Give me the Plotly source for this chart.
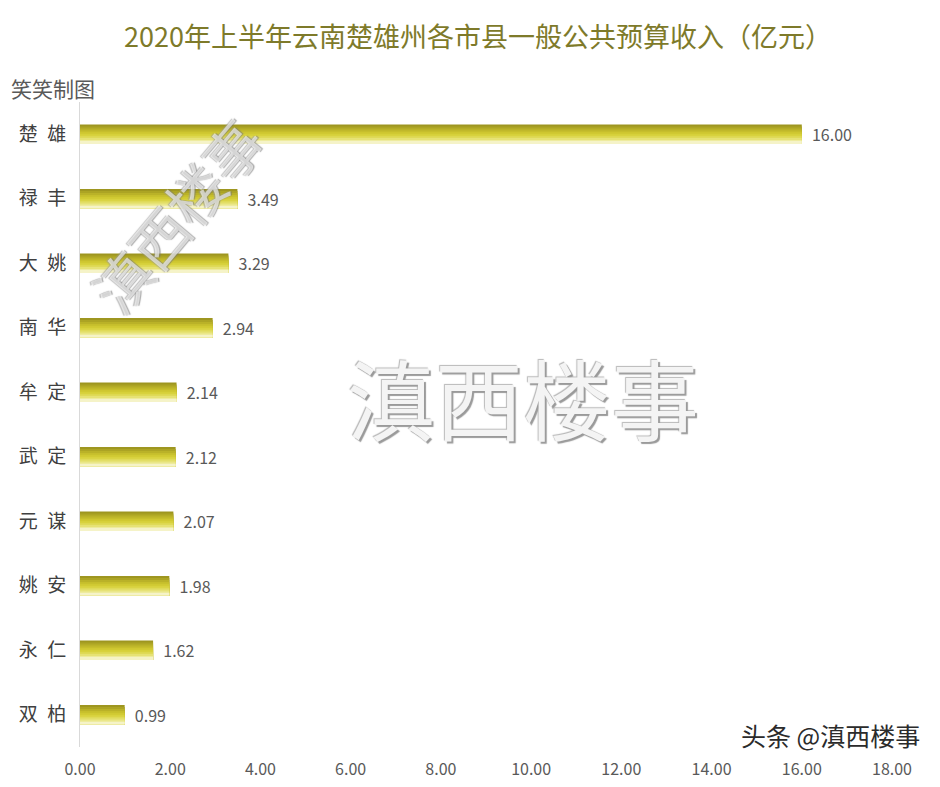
import plotly.graph_objects as go

categories = ["楚雄", "禄丰", "大姚", "南华", "牟定", "武定", "元谋", "姚安", "永仁", "双柏"]
values = [16.00, 3.49, 3.29, 2.94, 2.14, 2.12, 2.07, 1.98, 1.62, 0.99]
x_ticks = [0, 2, 4, 6, 8, 10, 12, 14, 16, 18]

FONT = "Noto Sans CJK SC"
fig = go.Figure()

# gradient-like bar built from overlaid layers (same data); each layer: (width, offset, colour)
layers = [
    (0.30, -0.15, "#9E9620"),
    (0.27, -0.12, "#ACA424"),
    (0.24, -0.09, "#BAB228"),
    (0.21, -0.06, "#C6BE2C"),
    (0.18, -0.03, "#D0C932"),
    (0.15, 0.00, "#D8D23E"),
    (0.12, 0.03, "#DFDA58"),
    (0.09, 0.06, "#E6E275"),
    (0.06, 0.09, "#EEEB9E"),
    (0.03, 0.12, "#F5F3C8"),
]
for i, (w, off, col) in enumerate(layers):
    fig.add_trace(go.Bar(
        x=values, y=categories, orientation="h",
        width=w, offset=off,
        marker=dict(color=col, line=dict(width=0)),
        text=["  " + f"{v:.2f}" for v in values] if i == 0 else None,
        textposition="outside" if i == 0 else "none",
        constraintext="none",
        textfont=dict(family=FONT, size=16, color="#595959"),
        cliponaxis=False,
        hoverinfo="skip",
        showlegend=False,
    ))

fig.update_layout(
    width=940, height=787,
    barmode="overlay",
    plot_bgcolor="white", paper_bgcolor="white",
    margin=dict(l=72, r=56, t=94, b=48, autoexpand=False),
    title=dict(
        text="2020年上半年云南楚雄州各市县一般公共预算收入（亿元）",
        x=0.5, xanchor="center", y=0.962, yanchor="middle",
        font=dict(family=FONT, size=27, color="#7E7A2A"),
    ),
    xaxis=dict(
        range=[0, 18], tickvals=x_ticks,
        ticktext=[f"{t:.2f}" for t in x_ticks],
        showgrid=False, zeroline=False, showline=False,
        tickfont=dict(family=FONT, size=16, color="#595959"),
        ticklabelstandoff=11, automargin=False,
    ),
    yaxis=dict(
        categoryorder="array", categoryarray=categories,
        autorange="reversed",
        tickvals=categories,
        ticktext=["\u2002".join(c) for c in categories],
        showgrid=False, zeroline=False,
        showline=True, linecolor="#D9D9D9", linewidth=1,
        tickfont=dict(family=FONT, size=19, color="#404040"),
        ticklabelstandoff=9, automargin=False,
    ),
    font=dict(family=FONT),
)

# subtitle
fig.add_annotation(text="笑笑制图", xref="paper", yref="paper",
                   x=-0.088, y=1.022, xanchor="left", yanchor="middle",
                   showarrow=False, font=dict(family=FONT, size=21, color="#595959"))

# large watermark
fig.add_annotation(text="滇西楼事", xref="paper", yref="paper",
                   x=0.545, y=0.545, xanchor="center", yanchor="middle",
                   showarrow=False,
                   font=dict(family=FONT, size=88, color="#F4F4F4",
                             shadow="2px 2px 1px #9A9A9A, -1px -1px 1px #B8B8B8"))
# rotated watermark
fig.add_annotation(text="滇西楼事", xref="paper", yref="paper",
                   x=0.118, y=0.825, xanchor="center", yanchor="middle",
                   textangle=-50, showarrow=False,
                   font=dict(family=FONT, size=57, color="rgba(255,255,255,0.6)",
                             shadow="1px 1px 1px #777777, -1px -1px 1px #999999"))
# corner source text
fig.add_annotation(text="头条 @滇西楼事", xref="paper", yref="paper",
                   x=1.037, y=0.018, xanchor="right", yanchor="middle",
                   showarrow=False,
                   font=dict(family=FONT, size=25, color="#2B2B2B",
                             shadow="1px 1px 2px #FFFFFF"))

fig.write_html("out.html")
